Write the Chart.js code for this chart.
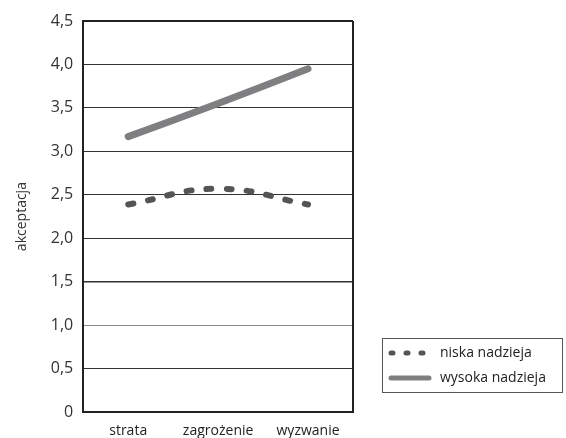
<!DOCTYPE html>
<html>
<head>
<meta charset="utf-8">
<script src="https://cdn.jsdelivr.net/npm/chart.js@4.4.0/dist/chart.umd.min.js"></script>
<style>
  html, body { margin: 0; padding: 0; background: #fff; }
  #wrap { width: 566px; height: 438px; position: relative; }
</style>
</head>
<body>
<div id="wrap"><canvas id="c"></canvas></div>
<script>
const categories = ['strata', 'zagrożenie', 'wyzwanie'];
const niskaNadzieja = [2.39, 2.57, 2.39];
const wysokaNadzieja = [3.17, 3.55, 3.95];
const yTicks = [0, 0.5, 1.0, 1.5, 2.0, 2.5, 3.0, 3.5, 4.0, 4.5];

const FONT = '"Open Sans", "Noto Sans", sans-serif';

// legenda w ramce, rysowana ręcznie obok wykresu
const boxLegend = {
    id: 'boxLegend',
    afterDraw(chart) {
        const ctx = chart.ctx;
        const x = 382, y = 338, w = 180, h = 54;
        const dashes = [[2, 13], []];
        ctx.save();
        ctx.strokeStyle = '#555';
        ctx.lineWidth = 1;
        ctx.strokeRect(x + 0.5, y + 0.5, w, h);
        chart.data.datasets.forEach((ds, i) => {
            const ly = y + 15 + i * 25;
            ctx.beginPath();
            ctx.strokeStyle = ds.borderColor;
            ctx.lineWidth = 5;
            ctx.lineCap = 'round';
            ctx.setLineDash(dashes[i]);
            ctx.moveTo(x + 9, ly);
            ctx.lineTo(x + 47, ly);
            ctx.stroke();
            ctx.setLineDash([]);
            ctx.fillStyle = '#222';
            ctx.font = '14px ' + FONT;
            ctx.textBaseline = 'middle';
            ctx.fillText(ds.label, x + 58, ly);
        });
        ctx.restore();
    }
};

new Chart(document.getElementById('c'), {
    type: 'line',
    data: {
        labels: categories,
        datasets: [
            {
                label: 'niska nadzieja',
                data: niskaNadzieja,
                borderColor: '#555558',
                borderWidth: 6,
                borderDash: [5, 15],
                borderCapStyle: 'round',
                tension: 0.45,
                pointRadius: 0
            },
            {
                label: 'wysoka nadzieja',
                data: wysokaNadzieja,
                borderColor: '#7f7f82',
                borderWidth: 7,
                borderCapStyle: 'round',
                tension: 0.3,
                pointRadius: 0
            }
        ]
    },
    options: {
        responsive: true,
        maintainAspectRatio: false,
        animation: false,
        layout: { padding: { top: 21, right: 213, bottom: -11, left: 10 } },
        plugins: {
            legend: { display: false },
            tooltip: { enabled: false }
        },
        scales: {
            x: {
                offset: true,
                grid: { display: false, drawTicks: false },
                border: { color: '#222', width: 2 },
                ticks: { color: '#222', font: { family: FONT, size: 14 }, padding: 10 }
            },
            y: {
                min: 0,
                max: 4.5,
                afterBuildTicks: axis => { axis.ticks = yTicks.map(v => ({ value: v })); },
                grid: {
                    drawTicks: false,
                    color: ctx => ctx.tick && ctx.tick.value === 1 ? '#8a8a8a' : '#333',
                    lineWidth: ctx => ctx.tick && ctx.tick.value === 1.5 ? 1.6 : 1.1
                },
                border: { color: '#222', width: 2 },
                ticks: {
                    color: '#333',
                    padding: 10,
                    font: { family: FONT, size: 16 },
                    callback: v => v === 0 ? '0' : v.toFixed(1).replace('.', ',')
                },
                title: {
                    display: true,
                    text: 'akceptacja',
                    color: '#333',
                    font: { family: FONT, size: 14 },
                    padding: { bottom: 10 }
                }
            }
        }
    },
    plugins: [boxLegend, {
        id: 'rightBorder',
        afterDraw(chart) {
            const a = chart.chartArea, ctx = chart.ctx;
            ctx.save();
            ctx.strokeStyle = '#222';
            ctx.lineWidth = 2;
            ctx.beginPath();
            ctx.moveTo(a.right, a.top);
            ctx.lineTo(a.right, a.bottom);
            ctx.moveTo(a.left, a.top);
            ctx.lineTo(a.right, a.top);
            ctx.stroke();
            ctx.restore();
        }
    }]
});
</script>
</body>
</html>
